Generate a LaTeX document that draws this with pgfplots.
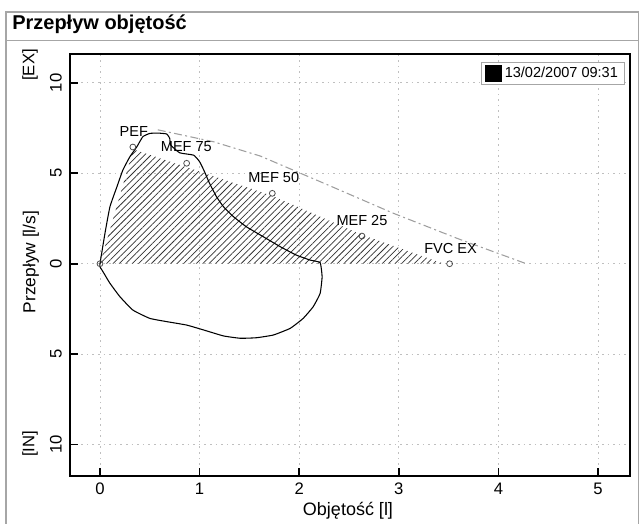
\documentclass[border=0pt]{standalone}
\usepackage{fontspec}
\setmainfont{Liberation Sans}
\usepackage{pgfplots}
\pgfplotsset{compat=1.18}
\usetikzlibrary{patterns.meta}

\begin{document}
\begin{tikzpicture}
\begin{scope}[x=0.75pt,y=0.75pt]
\path[use as bounding box] (0,0) rectangle (640,524);
\draw[gray!70, line width=0.8pt] (6,0) -- (6,512) -- (638.5,512) -- (638.5,0);
\draw[gray!70, line width=0.6pt] (6,484) -- (638.5,484);
\node[anchor=west, inner sep=0pt, font=\bfseries\fontsize{15}{17}\selectfont] at (12,500) {Przepływ objętość};
\node[rotate=90, inner sep=0pt, font=\fontsize{12.5}{14}\selectfont] at (30,459) {[EX]};
\node[rotate=90, inner sep=0pt, font=\fontsize{12.5}{14}\selectfont] at (30,80) {[IN]};
\node[rotate=90, inner sep=0pt, font=\fontsize{13}{15}\selectfont] at (31,262) {Przepływ [l/s]};
\node[inner sep=0pt, font=\fontsize{13.5}{15}\selectfont] at (348,13) {Objętość [l]};
\end{scope}
\begin{axis}[
  at={(52.5pt,36pt)}, anchor=south west,
  scale only axis, width=420pt, height=316.5pt,
  xmin=-0.301, xmax=5.321, ymin=-11.73, ymax=11.59,
  xtick={0,1,2,3,4,5},
  ytick={-10,-5,0,5,10}, yticklabels={10,5,0,5,10},
  xtick pos=left, ytick pos=left,
  tick align=inside, major tick length=6pt,
  tick style={black, line width=1.2pt},
  axis line style={black, line width=1.5pt},
  /pgf/number format/assume math mode=true,
  ticklabel style={font=\fontsize{12.5}{14}\selectfont, inner sep=0pt},
  xticklabel style={anchor=north},
  xticklabel shift=5pt,
  yticklabel style={rotate=90, anchor=south},
  yticklabel shift=6pt,
  grid=major,
  grid style={gray!50, line width=0.5pt, dash pattern=on 1.2pt off 3pt},
  legend style={at={(1,1)}, anchor=north east, xshift=-3.75pt, yshift=-6pt,
    draw=gray!70, line width=0.6pt, inner xsep=3pt, inner ysep=1.5pt,
    font=\fontsize{10.9}{12}\selectfont, cells={anchor=west}},
  legend image code/.code={\fill[black] (0pt,-6pt) rectangle (12pt,6pt);},
]
% hatched predicted area
\addplot[draw=none, pattern={Lines[angle=45, distance=3.4pt, line width=0.55pt]}, pattern color=black!80, forget plot]
  coordinates {(0,0) (0.335,6.32) (1.73,3.75) (2.63,1.6) (3.45,0)} \closedcycle;
% dashed upper predicted line
\addplot[gray!75, line width=0.8pt, dash pattern=on 6pt off 2.5pt on 1.5pt off 2.5pt, forget plot]
  coordinates {(0.58,7.4) (1.14,6.74) (1.61,5.95) (2.31,4.3) (2.94,2.8) (3.61,1.35) (4.28,0)};
% measured curve
\addplot[black, line width=0.8pt, smooth, tension=0.25]
  coordinates {
  (0,0) (0.05,1.68) (0.10,3.15) (0.17,4.25) (0.23,5.18) (0.30,5.91) (0.37,6.46)
  (0.43,7.02) (0.50,7.2) (0.58,7.22) (0.67,7.17) (0.70,6.93) (0.71,6.56)
  (0.80,6.13) (0.94,6.0) (1.0,5.64) (1.05,5.08) (1.10,4.44) (1.17,3.70)
  (1.24,3.15) (1.34,2.60) (1.47,2.04) (1.64,1.49) (1.81,0.94) (1.97,0.48)
  (2.11,0.2) (2.21,0.06)
  (2.23,-0.72) (2.21,-1.64) (2.14,-2.38) (2.04,-3.02) (1.91,-3.57) (1.74,-3.94)
  (1.57,-4.09) (1.41,-4.12) (1.24,-3.99) (1.04,-3.66) (0.87,-3.39) (0.67,-3.2)
  (0.50,-3.02) (0.33,-2.56) (0.20,-1.82) (0.10,-1.08) (0.03,-0.44) (0,-0.17) (0,0)};
\addlegendentry{13/02/2007 09:31}
% characteristic points
\addplot[only marks, mark=o, mark size=2.2pt, gray!60!black, mark options={line width=0.6pt}, forget plot]
  coordinates {(0,0) (0.33,6.45) (0.87,5.55) (1.73,3.89) (2.63,1.53) (3.51,0)};
\node[font=\fontsize{10.9}{12}\selectfont, inner sep=0pt] at (axis cs:0.34,7.28) {PEF};
\node[font=\fontsize{10.9}{12}\selectfont, inner sep=0pt] at (axis cs:0.867,6.47) {MEF 75};
\node[font=\fontsize{10.9}{12}\selectfont, inner sep=0pt] at (axis cs:1.744,4.76) {MEF 50};
\node[font=\fontsize{10.9}{12}\selectfont, inner sep=0pt] at (axis cs:2.63,2.41) {MEF 25};
\node[font=\fontsize{10.9}{12}\selectfont, inner sep=0pt] at (axis cs:3.52,0.85) {FVC EX};
\end{axis}
\end{tikzpicture}
\end{document}
